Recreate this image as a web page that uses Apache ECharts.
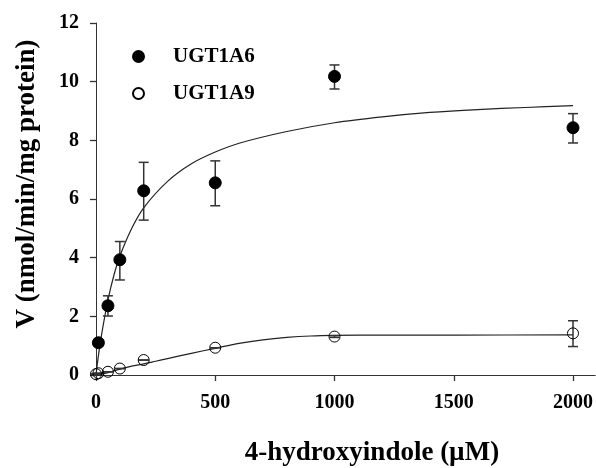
<!DOCTYPE html>
<html>
<head>
<meta charset="utf-8">
<script src="https://cdn.jsdelivr.net/npm/echarts@6/dist/echarts.min.js"></script>
<style>
  html, body { margin: 0; padding: 0; background: #fff; }
  #chart { width: 596px; height: 468px; }
</style>
</head>
<body>
<div id="chart"></div>
<script>
// 4-hydroxyindole glucuronidation by UGT1A6 and UGT1A9
const FONT = '"Liberation Serif", "Times New Roman", serif';

// Measured rates (mean with error range)
const ugt1a6Conc = [10, 50, 100, 200, 500, 1000, 2000];
const ugt1a6Rate = [1.1, 2.36, 3.93, 6.28, 6.55, 10.18, 8.43];
const ugt1a6Low  = [1.0, 2.01, 3.24, 5.28, 5.77, 9.75, 7.91];
const ugt1a6High = [1.2, 2.70, 4.55, 7.25, 7.30, 10.57, 8.91];

const ugt1a9Conc = [0, 10, 50, 100, 200, 500, 1000, 2000];
const ugt1a9Rate = [0.03, 0.06, 0.11, 0.22, 0.51, 0.93, 1.31, 1.42];
const ugt1a9Low  = [0.03, 0.06, 0.11, 0.22, 0.51, 0.93, 1.28, 0.97];
const ugt1a9High = [0.03, 0.06, 0.11, 0.22, 0.51, 0.93, 1.34, 1.85];

// Fitted kinetic curves
const fit6Conc = [0, 10, 25, 50, 75, 100, 150, 200, 300, 400, 500, 600, 800, 1000, 1200, 1400, 1600, 1800, 2000];
const fit6Rate = [0, 0.65, 1.45, 2.55, 3.4, 4.05, 5.0, 5.7, 6.6, 7.2, 7.6, 7.9, 8.3, 8.6, 8.8, 8.95, 9.05, 9.12, 9.18];
const fit9Conc = [0, 25, 50, 100, 150, 200, 250, 300, 400, 500, 600, 700, 800, 900, 1000, 1200, 1500, 2000];
const fit9Rate = [0, 0.03, 0.08, 0.2, 0.3, 0.38, 0.47, 0.56, 0.74, 0.91, 1.08, 1.2, 1.28, 1.33, 1.35, 1.36, 1.36, 1.37];

// Axis ticks
const xTicks = [0, 500, 1000, 1500, 2000];
const yTicks = [0, 2, 4, 6, 8, 10, 12];

const zip = (xs, ys) => xs.map((x, i) => [x, ys[i]]);
const zip3 = (xs, lo, hi) => xs.map((x, i) => [x, lo[i], hi[i]]);

function errorBarItem(params, api) {
  const x = api.value(0);
  const lo = api.coord([x, api.value(1)]);
  const hi = api.coord([x, api.value(2)]);
  const cap = 5;
  const style = { stroke: '#333', lineWidth: 1.5 };
  return {
    type: 'group',
    children: [
      { type: 'line', shape: { x1: lo[0], y1: lo[1], x2: hi[0], y2: hi[1] }, style },
      { type: 'line', shape: { x1: lo[0] - cap, y1: lo[1], x2: lo[0] + cap, y2: lo[1] }, style },
      { type: 'line', shape: { x1: hi[0] - cap, y1: hi[1], x2: hi[0] + cap, y2: hi[1] }, style }
    ]
  };
}

const chart = echarts.init(document.getElementById('chart'), null, { renderer: 'canvas' });

chart.setOption({
  animation: false,
  backgroundColor: '#fff',
  grid: { left: 96, right: 0, top: 23, bottom: 93, containLabel: false },
  xAxis: {
    type: 'value',
    min: 0,
    max: 2093,
    interval: 500,
    splitLine: { show: false },
    axisLine: { onZero: false, lineStyle: { color: '#333', width: 1 } },
    axisTick: { show: true, length: 6, customValues: xTicks, lineStyle: { color: '#333', width: 1.3 } },
    axisLabel: {
      customValues: xTicks,
      margin: 18,
      color: '#000',
      fontFamily: FONT,
      fontWeight: 'bold',
      fontSize: 20,
      formatter: v => (xTicks.indexOf(v) >= 0 ? String(v) : '')
    }
  },
  yAxis: {
    type: 'value',
    min: 0,
    max: 12,
    interval: 2,
    splitLine: { show: false },
    axisLine: { show: true, onZero: false, lineStyle: { color: '#333', width: 1 } },
    axisTick: { show: true, length: 6, lineStyle: { color: '#333', width: 1.3 } },
    axisLabel: {
      margin: 17,
      color: '#000',
      fontFamily: FONT,
      fontWeight: 'bold',
      fontSize: 20,
      formatter: v => (yTicks.indexOf(v) >= 0 ? String(v) : '')
    }
  },
  legend: {
    data: ['UGT1A6', 'UGT1A9'],
    orient: 'vertical',
    left: 127,
    top: 41,
    itemWidth: 11,
    itemHeight: 11,
    itemGap: 16,
    textStyle: {
      color: '#000',
      fontFamily: FONT,
      fontWeight: 'bold',
      fontSize: 21,
      padding: [3, 0, 0, 24]
    }
  },
  graphic: [
    {
      type: 'text',
      x: 372,
      y: 453,
      style: {
        text: '4-hydroxyindole (\u00b5M)',
        x: 0, y: 0,
        textAlign: 'center',
        textVerticalAlign: 'middle',
        font: 'bold 27px ' + FONT,
        fill: '#000'
      }
    },
    {
      type: 'text',
      x: 27.5,
      y: 184,
      rotation: Math.PI / 2,
      style: {
        text: 'V (nmol/min/mg protein)',
        x: 0, y: 0,
        textAlign: 'center',
        textVerticalAlign: 'middle',
        font: 'bold 27px ' + FONT,
        fill: '#000'
      }
    }
  ],
  series: [
    {
      name: 'UGT1A6 fit',
      type: 'line',
      data: zip(fit6Conc, fit6Rate),
      smooth: 0.3,
      showSymbol: false,
      symbol: 'none',
      lineStyle: { color: '#222', width: 1.2 },
      z: 2
    },
    {
      name: 'UGT1A9 fit',
      type: 'line',
      data: zip(fit9Conc, fit9Rate),
      smooth: 0.3,
      showSymbol: false,
      symbol: 'none',
      lineStyle: { color: '#222', width: 1.2 },
      z: 2
    },
    {
      name: 'UGT1A6 error',
      type: 'custom',
      renderItem: errorBarItem,
      data: zip3(ugt1a6Conc, ugt1a6Low, ugt1a6High),
      encode: { x: 0, y: [1, 2] },
      clip: false,
      z: 3
    },
    {
      name: 'UGT1A9 error',
      type: 'custom',
      renderItem: errorBarItem,
      data: zip3(ugt1a9Conc, ugt1a9Low, ugt1a9High),
      encode: { x: 0, y: [1, 2] },
      clip: false,
      z: 3
    },
    {
      name: 'UGT1A6',
      type: 'scatter',
      data: zip(ugt1a6Conc, ugt1a6Rate),
      symbol: 'circle',
      symbolSize: 12,
      clip: false,
      itemStyle: { color: '#000', borderColor: '#000', borderWidth: 1, opacity: 1 },
      z: 4
    },
    {
      name: 'UGT1A9',
      type: 'scatter',
      data: zip(ugt1a9Conc, ugt1a9Rate),
      symbol: 'circle',
      symbolSize: 11,
      clip: false,
      itemStyle: { color: 'rgba(255,255,255,0)', borderColor: '#000', borderWidth: 1, opacity: 1 },
      z: 4
    }
  ]
});
</script>
</body>
</html>
